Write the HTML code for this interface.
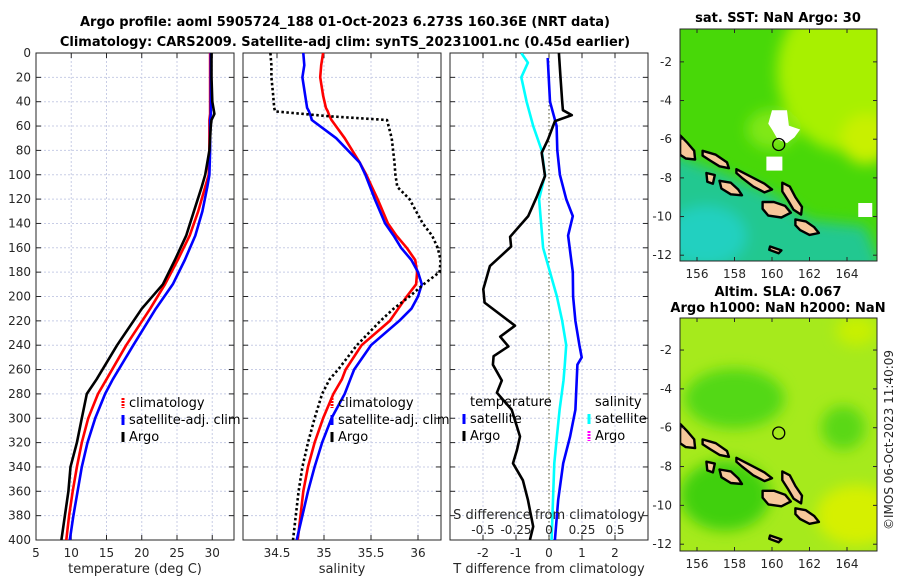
<!DOCTYPE html>
<html><head><meta charset="utf-8">
<style>
html,body{margin:0;padding:0;background:#fff;}
svg{display:block;font-family:"DejaVu Sans","Liberation Sans",sans-serif;}
.tk{font-size:12px;fill:#262626;}
.ttl{font-size:13px;font-weight:bold;fill:#000;}
.lbl{font-size:13px;fill:#262626;}
.leg{font-size:13px;fill:#000;}
</style></head>
<body>
<svg id="fig" width="900" height="580" viewBox="0 0 900 580" xmlns="http://www.w3.org/2000/svg">
<defs><filter id="bl" x="-20%" y="-20%" width="140%" height="140%"><feGaussianBlur stdDeviation="7"/></filter>
<clipPath id="c1"><rect x="36" y="53" width="198" height="487"/></clipPath>
<clipPath id="c2"><rect x="243" y="53" width="198" height="487"/></clipPath>
<clipPath id="c3"><rect x="450" y="53" width="198" height="487"/></clipPath>
<clipPath id="m1"><rect x="680" y="29" width="197" height="232"/></clipPath>
<clipPath id="m2"><rect x="680" y="318" width="197" height="233"/></clipPath>
</defs>
<text class="ttl" x="345" y="26" text-anchor="middle">Argo profile: aoml 5905724_188 01-Oct-2023 6.273S 160.36E (NRT data)</text>
<text class="ttl" x="345" y="46" text-anchor="middle">Climatology: CARS2009. Satellite-adj clim: synTS_20231001.nc (0.45d earlier)</text>
<text class="ttl" x="778" y="22" text-anchor="middle">sat. SST: NaN Argo: 30</text>
<text class="ttl" x="778" y="296" text-anchor="middle">Altim. SLA: 0.067</text>
<text class="ttl" x="778" y="312" text-anchor="middle">Argo h1000: NaN h2000: NaN</text>
<text class="tk" x="0" y="0" transform="translate(893,440) rotate(-90)" text-anchor="middle">©IMOS 06-Oct-2023 11:40:09</text>
<g id="root"></g>
</svg>
<script>
// ---- data ----
const depthT = [0,20,40,50,55,60,80,100,110,130,150,170,190,210,240,268,280,300,320,340,360,380,400];
const tClim  = [29.7,29.7,29.7,29.7,29.6,29.6,29.6,29.5,29.0,28.0,26.8,25.1,23.3,21.2,17.8,15.0,13.8,12.4,11.5,10.8,10.2,9.7,9.3];
const tSat   = [29.8,29.8,29.8,29.8,29.7,29.7,29.7,29.6,29.3,28.6,27.6,26.1,24.4,22.0,18.8,15.9,14.8,13.4,12.3,11.5,10.9,10.3,9.8];
const tArgo  = [29.9,29.9,30.0,30.3,29.9,29.8,29.6,29.0,28.5,27.4,26.3,24.7,23.0,20.0,16.5,13.6,12.2,11.5,10.8,9.9,9.6,9.1,8.6];
const depthS = [0,10,20,35,45,48,52,55,70,90,100,110,120,140,150,160,170,180,190,200,210,220,240,260,268,280,300,320,340,360,380,400];
const sClim  = [34.99,34.97,34.96,34.99,35.02,35.04,35.06,35.08,35.22,35.38,35.45,35.51,35.57,35.68,35.77,35.88,35.97,35.99,35.98,35.88,35.79,35.7,35.4,35.23,35.19,35.1,34.99,34.9,34.83,34.78,34.75,34.72];
const sSat   = [34.78,34.79,34.77,34.8,34.82,34.84,34.86,34.87,35.13,35.38,35.44,35.49,35.54,35.65,35.74,35.82,35.93,36.0,36.04,36.0,35.93,35.8,35.5,35.32,35.28,35.22,35.08,34.98,34.9,34.83,34.77,34.71];
const sArgo  = [34.43,34.44,34.44,34.46,34.47,34.48,35.06,35.67,35.72,35.75,35.76,35.78,35.91,36.05,36.15,36.21,36.24,36.23,36.06,35.91,35.74,35.6,35.35,35.15,35.06,34.98,34.9,34.83,34.77,34.73,34.7,34.67];
const depthD = [0,20,40,47,51,56,71,82,101,118,134,151,159,175,194,205,224,233,241,249,256,269,279,293,315,326,337,351,367,389,400];
const dTArgo = [0.3,0.35,0.4,0.42,0.69,0.18,-0.03,-0.22,-0.12,-0.37,-0.63,-1.18,-1.15,-1.79,-1.99,-1.95,-1.03,-1.48,-1.23,-1.68,-1.7,-1.43,-1.58,-1.13,-0.88,-0.97,-1.09,-0.79,-0.64,-0.48,-0.58];
const depthB = [4,40,60,80,100,120,134,150,180,200,220,240,250,256,269,293,315,337,367,400];
const dTSat  = [-0.04,0.03,0.23,0.25,0.33,0.52,0.72,0.58,0.72,0.73,0.8,0.92,0.99,0.86,0.84,0.8,0.64,0.43,0.28,0.18];
const depthC = [0,8,20,40,60,80,100,120,140,160,175,200,220,240,256,269,293,315,337,367,400];
const dSSat  = [-0.21,-0.16,-0.21,-0.17,-0.12,-0.055,-0.03,-0.075,-0.06,-0.045,-0.005,0.06,0.1,0.13,0.12,0.11,0.08,0.06,0.04,0.03,0.02];
const depthTicks = [0,20,40,60,80,100,120,140,160,180,200,220,240,260,280,300,320,340,360,380,400];
const tTicks = [5,10,15,20,25,30];
const sTicks = [34.5,35,35.5,36];
const dTTicks = [-2,-1,0,1,2];
const dSTicks = ["-0.5","-0.25","0","0.25","0.5"];
const dSTickVals = [-0.5,-0.25,0,0.25,0.5];

// ---- axes ----
const Y0=53, Y1=540;
const yD = d => Y0 + d/400*(Y1-Y0);
const xT = t => 36 + (t-5)*7.05;
const xS = s => 277 + (s-34.5)*94;
const xDT = v => 549 + v*33;
const xDS = v => 549 + v*132;

const NS="http://www.w3.org/2000/svg";
const root=document.getElementById('root');
function el(tag, attrs, parent){const e=document.createElementNS(NS,tag);for(const k in attrs)e.setAttribute(k,attrs[k]);(parent||root).appendChild(e);return e;}
function txt(s,attrs,parent){const e=el('text',attrs,parent);e.textContent=s;return e;}

function panel(x0,name,xs,xticks,xfmt,clip){
  const g=el('g',{});
  
  
  xticks.forEach(v=>{const x=xs(v);
    el('line',{x1:x,x2:x,y1:Y0,y2:Y1,stroke:'#c8cde6','stroke-dasharray':'2,2','stroke-width':1},g);
    el('line',{x1:x,x2:x,y1:Y1,y2:Y1-5,stroke:'#262626'},g);
    el('line',{x1:x,x2:x,y1:Y0,y2:Y0+5,stroke:'#262626'},g);
  });
  depthTicks.forEach(d=>{const y=yD(d);
    el('line',{x1:x0,x2:x0+198,y1:y,y2:y,stroke:'#c8cde6','stroke-dasharray':'2,2','stroke-width':1},g);
    el('line',{x1:x0,x2:x0+5,y1:y,y2:y,stroke:'#262626'},g);
    el('line',{x1:x0+198,x2:x0+193,y1:y,y2:y,stroke:'#262626'},g);
  });
  el('rect',{x:x0,y:Y0,width:198,height:Y1-Y0,fill:'none',stroke:'#262626','stroke-width':1},g);
  xticks.forEach(v=>{const t=txt(xfmt(v),{class:'tk',x:xs(v),y:557,'text-anchor':'middle'},g);
    
    });
  return g;
}
function line(xs,ys,xsc,color,name,clip,dash){
  const pts=xs.map((v,i)=>xsc(v).toFixed(1)+','+yD(ys[i]).toFixed(1)).join(' ');
  const p=el('polyline',{points:pts,fill:'none',stroke:color,'stroke-width':2.6,'stroke-linejoin':'round','clip-path':'url(#'+clip+')'});
  if(dash)p.setAttribute('stroke-dasharray',dash);
  
  
}

// panel 1
panel(36,'temperature-panel',xT,tTicks,v=>String(v));
depthTicks.forEach(d=>{const t=txt(String(d),{class:'tk',x:31,y:yD(d)+4,'text-anchor':'end'});
  
  });
line(tClim,depthT,xT,'#ff0000','temp-climatology-line','c1');
line(tSat,depthT,xT,'#0000ff','temp-satellite-line','c1');
line(tArgo,depthT,xT,'#000000','temp-argo-line','c1');
let a=txt('temperature (deg C)',{class:'lbl',x:135,y:573,'text-anchor':'middle'});


// panel 2
panel(243,'salinity-panel',xS,sTicks,v=>String(v));
line(sClim,depthS,xS,'#ff0000','sal-climatology-line','c2');
line(sSat,depthS,xS,'#0000ff','sal-satellite-line','c2');
line(sArgo,depthS,xS,'#000000','sal-argo-line','c2','2.5,2.5');
a=txt('salinity',{class:'lbl',x:342,y:573,'text-anchor':'middle'});


// panel 3
panel(450,'difference-panel',xDT,dTTicks,v=>String(v));
el('line',{x1:549,x2:549,y1:Y0,y2:Y1,stroke:'#55552a','stroke-dasharray':'1.5,2.5','stroke-width':1});
line(dSSat,depthC,xDS,'#00ffff','sal-diff-satellite-line','c3');
line(dTSat,depthB,xDT,'#0000ff','temp-diff-satellite-line','c3');
line(dTArgo,depthD,xDT,'#000000','temp-diff-argo-line','c3');
a=txt('T difference from climatology',{class:'lbl',x:549,y:573,'text-anchor':'middle'});

a=txt('S difference from climatology',{class:'lbl',x:549,y:519,'text-anchor':'middle'});

dSTicks.forEach((s,i)=>{const t=txt(s,{class:'tk',x:xDS(dSTickVals[i]),y:534,'text-anchor':'middle'});
  
  });

// legends
function legend(x,y,color,label,name,dash){
  const g=el('g',{});
  
  
  const r=el('line',{x1:x,x2:x,y1:y-9,y2:y+1,stroke:color,'stroke-width':3},g);
  if(dash)r.setAttribute('stroke-dasharray',dash);
  txt(label,{class:'leg',x:x+6,y:y},g);
}
legend(123,407,'#ff0000','climatology','legend-climatology','2,1');
legend(123,424,'#0000ff','satellite-adj. clim','legend-satellite-adj');
legend(123,441,'#000000','Argo','legend-argo');
legend(332,407,'#ff0000','climatology','legend2-climatology','2,1');
legend(332,424,'#0000ff','satellite-adj. clim','legend2-satellite-adj');
legend(332,441,'#000000','Argo','legend2-argo');
a=txt('temperature',{class:'leg',x:470,y:406});
legend(464,423,'#0000ff','satellite','legend-temp-satellite');
legend(464,440,'#000000','Argo','legend-temp-argo');
a=txt('salinity',{class:'leg',x:595,y:406});
legend(589,423,'#00ffff','satellite','legend-sal-satellite');
legend(589,440,'#ff00ff','Argo','legend-sal-argo','2,1');

// ---- maps ----
const lonTicks=[156,158,160,162,164];
const latTicks=[-2,-4,-6,-8,-10,-12];
const islands=[
 [[155.1,-5.8],[155.5,-6.2],[155.85,-6.6],[155.9,-7.05],[155.4,-7.0],[155.1,-6.8]],
 [[156.3,-6.6],[157.0,-6.8],[157.6,-7.2],[157.7,-7.5],[157.2,-7.4],[156.7,-7.1],[156.3,-6.85]],
 [[158.1,-7.55],[158.9,-7.95],[159.6,-8.3],[160.0,-8.6],[159.6,-8.75],[159.0,-8.45],[158.4,-8.0],[158.1,-7.75]],
 [[157.2,-8.15],[157.8,-8.25],[158.2,-8.6],[158.4,-8.9],[157.8,-8.85],[157.3,-8.55]],
 [[156.5,-7.75],[156.95,-7.85],[156.85,-8.3],[156.55,-8.2]],
 [[159.5,-9.25],[160.1,-9.25],[160.7,-9.45],[161.0,-9.8],[160.5,-10.05],[159.8,-9.95],[159.5,-9.6]],
 [[160.55,-8.25],[160.95,-8.45],[161.25,-9.0],[161.6,-9.5],[161.55,-9.9],[161.15,-9.65],[160.85,-9.15],[160.55,-8.7]],
 [[161.25,-10.15],[161.8,-10.25],[162.25,-10.55],[162.5,-10.85],[162.0,-10.95],[161.5,-10.7],[161.25,-10.45]],
 [[159.9,-11.55],[160.5,-11.75],[160.35,-11.9],[159.85,-11.72]]
];
function map(name,top,bottom,latTop,latBot,clip,kind){
  const g=el('g',{});
  
  
  const lx=l=>697+(l-156)*18.75;
  const ly=l=>top+(latTop-l)/(latTop-latBot)*(bottom-top);
  const cg=el('g',{'clip-path':'url(#'+clip+')'},g);
  if(kind==='sst'){
    el('rect',{x:680,y:top,width:197,height:bottom-top,fill:'#48d808'},cg);
    const b=el('g',{filter:'url(#bl)'},cg);
    el('ellipse',{cx:lx(164),cy:ly(-2.5),rx:70,ry:80,fill:'#a8f000'},b);
    el('ellipse',{cx:lx(165),cy:ly(-6),rx:25,ry:25,fill:'#c8f000'},b);
    el('polygon',{points:[[154,-6.5],[157,-7.6],[160,-8.8],[162,-10.2],[165,-10.5],[166,-13],[154,-13]].map(p=>lx(p[0])+','+ly(p[1])).join(' '),fill:'#22c890'},b);
    el('ellipse',{cx:lx(156.5),cy:ly(-11),rx:40,ry:30,fill:'#20d0c0'},b);
    el('ellipse',{cx:lx(160),cy:ly(-5.5),rx:25,ry:20,fill:'#80e818'},b);
    el('polygon',{points:[[160,-4.5],[160.8,-4.5],[160.9,-5.3],[161.5,-5.5],[161.2,-5.9],[160.8,-6.2],[160.3,-6.0],[160,-5.5],[159.8,-5.2]].map(p=>lx(p[0])+','+ly(p[1])).join(' '),fill:'#fff'},cg);
    el('rect',{x:lx(159.7),y:ly(-6.9),width:16,height:14,fill:'#fff'},cg);
    el('rect',{x:lx(164.6),y:ly(-9.3),width:14,height:14,fill:'#fff'},cg);
  } else {
    el('rect',{x:680,y:top,width:197,height:bottom-top,fill:'#a6ea1c'},cg);
    const b=el('g',{filter:'url(#bl)'},cg);
    el('ellipse',{cx:lx(158),cy:ly(-4.5),rx:50,ry:30,fill:'#52d812'},b);
    el('ellipse',{cx:lx(157.5),cy:ly(-9.5),rx:45,ry:35,fill:'#40d010'},b);
    el('ellipse',{cx:lx(163.8),cy:ly(-6),rx:22,ry:22,fill:'#5ad814'},b);
    el('ellipse',{cx:lx(164.5),cy:ly(-10.5),rx:40,ry:30,fill:'#d6f000'},b);
    el('ellipse',{cx:lx(164.5),cy:ly(-1),rx:20,ry:15,fill:'#c8f000'},b);
  }
  islands.forEach(isl=>{
    el('polygon',{points:isl.map(p=>lx(p[0]).toFixed(1)+','+ly(p[1]).toFixed(1)).join(' '),fill:'#f7c79a',stroke:'#000','stroke-width':2.4,'stroke-linejoin':'round'},cg);
  });
  el('circle',{cx:lx(160.36),cy:ly(-6.273),r:6,fill:'none',stroke:'#000','stroke-width':1.3},cg);
  el('rect',{x:680,y:top,width:197,height:bottom-top,fill:'none',stroke:'#262626'},g);
  lonTicks.forEach(l=>{const x=lx(l);
    el('line',{x1:x,x2:x,y1:bottom,y2:bottom-4,stroke:'#262626'},g);
    el('line',{x1:x,x2:x,y1:top,y2:top+4,stroke:'#262626'},g);
    const t=txt(String(l),{class:'tk',x:x,y:bottom+17,'text-anchor':'middle'},g);
    
    });
  latTicks.forEach(l=>{const y=ly(l);
    el('line',{x1:680,x2:684,y1:y,y2:y,stroke:'#262626'},g);
    el('line',{x1:877,x2:873,y1:y,y2:y,stroke:'#262626'},g);
    const t=txt(String(l),{class:'tk',x:672,y:y+4,'text-anchor':'end'},g);
    
    });
}
map('sst-map',29,261,-0.3,-12.3,'m1','sst');
map('sla-map',318,551,-0.35,-12.35,'m2','sla');
</script>
</body></html>
